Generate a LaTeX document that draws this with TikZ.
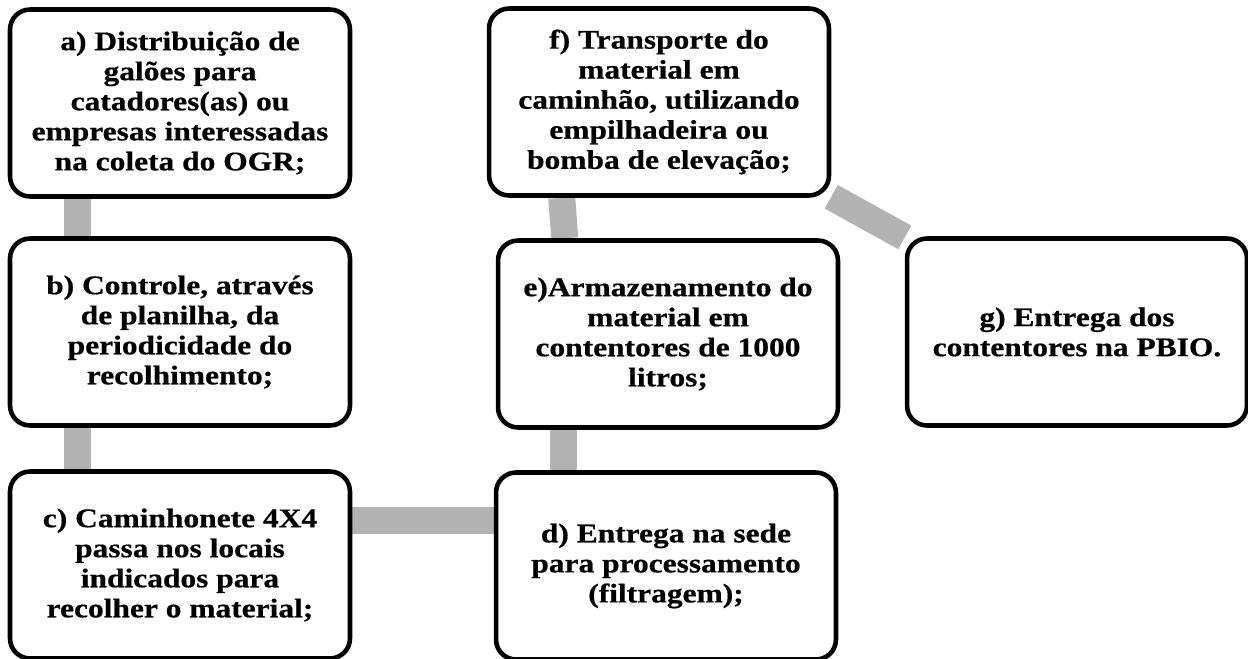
\documentclass[tikz,border=0pt]{standalone}
\usepackage{fontspec}
\setmainfont{Liberation Serif}[FakeStretch=1.17, BoldFeatures={FakeBold=0.6}]
\usepackage{xcolor}
\usetikzlibrary{backgrounds}
\tikzset{
	stepnode/.style = {draw=black, line width=2.6pt, rounded corners=0.4cm, fill=white, align=center, inner sep=0pt, minimum width=6.8cm, minimum height=3.74cm, font=\fontsize{15.3}{17.1}\selectfont\bfseries},
	link/.style = {draw=linkgray, line width=0.54cm},
}
\definecolor{linkgray}{RGB}{179,179,179}

\begin{document}
\begin{tikzpicture}[x=0.02cm, y=-0.02cm]
	\useasboundingbox (0,0) rectangle (1248,659);

	\node[stepnode] (a) at (180,103) {a) Distribuição de\\ galões para\\ catadores(as) ou\\ empresas interessadas\\ na coleta do OGR;};
	\node[stepnode] (b) at (180,332) {b) Controle, através\\ de planilha, da\\ periodicidade do\\ recolhimento;};
	\node[stepnode] (c) at (180,565) {c) Caminhonete 4X4\\ passa nos locais\\ indicados para\\ recolher o material;};
	\node[stepnode] (d) at (666,566) {d) Entrega na sede\\ para processamento\\ (filtragem);};
	\node[stepnode] (e) at (668,334) {e)Armazenamento do\\ material em\\ contentores de 1000\\ litros;};
	\node[stepnode] (f) at (659,102) {f) Transporte do\\ material em\\ caminhão, utilizando\\ empilhadeira ou\\ bomba de elevação;};
	\node[stepnode] (g) at (1077,332) {g) Entrega dos\\ contentores na PBIO.};

	% grey links behind the boxes
	\begin{scope}[on background layer]
		\draw[link] ([xshift=1.4cm]a.south west) -- ([xshift=1.4cm]a.south west |- b.north);
		\draw[link] ([xshift=1.4cm]b.south west) -- ([xshift=1.4cm]b.south west |- c.north);
		\draw[link] ([yshift=0.9cm]c.east) -- ([yshift=0.9cm]c.east -| d.west);
		\draw[link] ([xshift=1.4cm]d.north west) -- ([xshift=1.4cm]d.north west |- e.south);
		\draw[link] ([xshift=1.38cm]e.north west) -- ([xshift=1.5cm]f.south west);
		\draw[link] (f) -- (g);
	\end{scope}
\end{tikzpicture}
\end{document}
